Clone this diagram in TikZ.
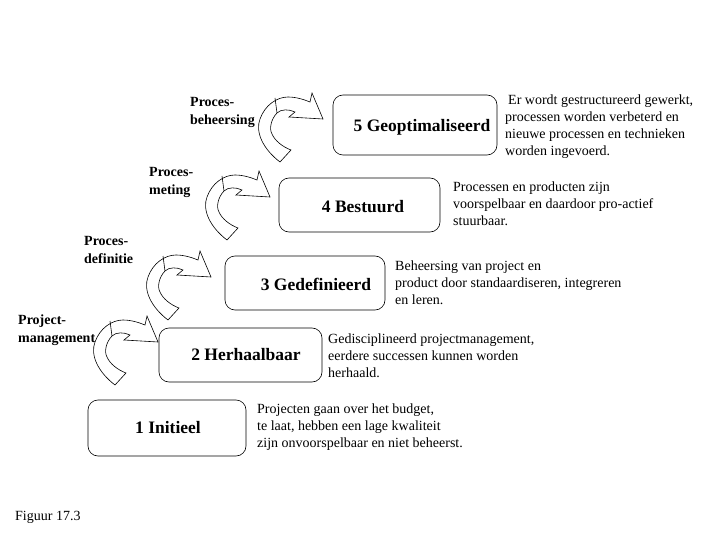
\documentclass[tikz,border=0pt]{standalone}
\usepackage{fontspec}
\setmainfont{Liberation Serif}
\begin{document}
\begin{tikzpicture}[x=1pt,y=-1pt,
  lvl/.style={draw,rounded corners=10pt,line width=0.6pt},
  lvltxt/.style={font=\fontsize{17.5}{20}\selectfont\bfseries},
  desc/.style={anchor=north west,align=left,inner sep=0pt,font=\fontsize{14}{17}\selectfont},
  lab/.style={anchor=north west,align=left,inner sep=0pt,font=\fontsize{14}{18}\selectfont\bfseries},
  barrow/.style={draw,fill=white,line width=0.6pt}]
\useasboundingbox (0,0) rectangle (720,540);
\newcommand{\bentarrow}[2]{%
\draw[barrow,shift={(#1,#2)}] (115,385) .. controls (98,372) and (90,355) .. (95,342)
  .. controls (100,328) and (112,320) .. (123,320) .. controls (132,320) and (140,323) .. (145,325)
  -- (147,316) -- (158,342) -- (124,340) -- (130,335)
  .. controls (124,332) and (116,332) .. (112,336) .. controls (106,342) and (104,352) .. (107,357)
  .. controls (110,364) and (118,370) .. (126,373) -- cycle;
\draw[line width=0.6pt,shift={(#1,#2)}] (112,336) -- (110,321);}
\bentarrow{0}{0}
\bentarrow{53}{-65}
\bentarrow{112}{-145}
\bentarrow{165}{-223}
\draw[lvl] (333,95) rectangle (497,155);
\node[lvltxt] (n5) at (422,127) {5 Geoptimaliseerd};
\draw[lvl] (279,178) rectangle (440,232);
\node[lvltxt] (n4) at (363,207) {4 Bestuurd};
\draw[lvl] (225,256) rectangle (385,310);
\node[lvltxt] (n3) at (316,284) {3 Gedefinieerd};
\draw[lvl] (159,328) rectangle (322,382);
\node[lvltxt] (n2) at (246,355) {2 Herhaalbaar};
\draw[lvl] (88,400) rectangle (246,456);
\node[lvltxt] (n1) at (168,428) {1 Initieel};
\node[desc] (d5) at (505,95) {\hspace{3pt}Er wordt gestructureerd gewerkt,\\processen worden verbeterd en\\nieuwe processen en technieken\\worden ingevoerd.};
\node[desc] (d4) at (453,182) {Processen en producten zijn\\voorspelbaar en daardoor pro-actief\\stuurbaar.};
\node[desc] (d3) at (395,261) {Beheersing van project en\\product door standaardiseren, integreren\\en leren.};
\node[desc] (d2) at (328,334) {Gedisciplineerd projectmanagement,\\eerdere successen kunnen worden\\herhaald.};
\node[desc] (d1) at (257,404) {Projecten gaan over het budget,\\te laat, hebben een lage kwaliteit\\zijn onvoorspelbaar en niet beheerst.};
\node[lab] (l5) at (190,97) {Proces-\\beheersing};
\node[lab] (l4) at (149,167) {Proces-\\meting};
\node[lab] (l3) at (84,236) {Proces-\\definitie};
\node[lab] (l2) at (18,315) {Project-\\management};
\node[anchor=west,inner sep=0pt,font=\fontsize{14}{16}\selectfont] (fig) at (15,517) {Figuur 17.3};
\end{tikzpicture}
\end{document}
